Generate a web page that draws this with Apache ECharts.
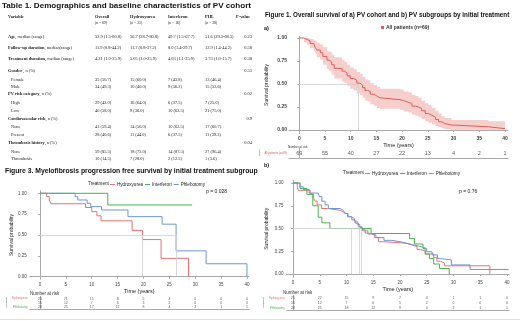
<!DOCTYPE html>
<html>
<head>
<meta charset="utf-8">
<script src="https://cdn.jsdelivr.net/npm/echarts@6/dist/echarts.min.js"></script>
<style>
html, body {margin: 0; padding: 0; background: #fff;}
#main {width: 520px; height: 321px;}
</style>
</head>
<body>
<div id="main"></div>
<script>
// ---- Table 1 data ----
var table_title = 'Table 1. Demographics and baseline characteristics of PV cohort';
var table_cols = ['Overall', 'Hydroxyurea', 'Interferon', 'PHL'];
var table_n = ['(n = 69)', '(n = 25)', '(n = 16)', '(n = 28)'];
var row_bold = ['Age', 'Follow-up duration', 'Treatment duration', 'Gender', '', '', 'PV risk category', '', '', 'Cardiovascular risk', '', '', 'Thrombosis history', '', ''];
var row_rest = [', median (range)', ', median(range)', ', median (range)', ' , n (%)', 'Female', 'Male', ', n (%)', 'High', 'Low', ', n (%)', 'None', 'Present', ', n (%)', 'None', 'Thrombosis'];
var overall = ['52.9 (1.5-80.8)', '11.9 (0.8-44.2)', '4.31 (1.0-25.9)', '', '35 (50.7)', '34 (49.3)', '', '29 (42.0)', '40 (58.0)', '', '41 (59.4)', '28 (40.6)', '', '59 (85.5)', '10 (14.5)'];
var hydroxyurea = ['56.7 (28.7-80.8)', '11.7 (0.8-37.2)', '5.05 (1.0-25.9)', '', '15 (60.0)', '10 (40.0)', '', '16 (64.0)', '9 (36.0)', '', '14 (56.0)', '11 (44.0)', '', '18 (72.0)', '7 (28.0)'];
var interferon = ['49.7 (1.5-67.7)', '8.0 (1.4-29.7)', '4.03 (1.1-25.0)', '', '7 (43.8)', '9 (56.2)', '', '6 (37.5)', '10 (62.5)', '', '10 (62.5)', '6 (37.5)', '', '14 (87.5)', '2 (12.5)'];
var phl = ['51.6 (29.3-68.5)', '12.9 (1.4-44.2)', '3.73 (1.0-15.7)', '', '13 (46.4)', '15 (53.6)', '', '7 (25.0)', '21 (75.0)', '', '17 (60.7)', '11 (39.3)', '', '27 (96.4)', '1 (3.6)'];
var p_values = ['0.23', '0.58', '0.38', '0.53', '', '', '0.02', '', '', '0.9', '', '', '0.04', '', ''];

// ---- Figure 1a: overall survival, all patients ----
var all_time  = [0, 0.9, 1.5, 2.1, 2.8, 3.1, 3.4, 4.1, 4.6, 5.4, 5.8, 6.3, 6.8, 8.3, 8.8, 9.3, 9.9, 10.6, 11.2, 11.8, 12.3, 12.8, 13.3, 13.8, 14.5, 15.1, 15.7, 19.6, 20.3, 21.3, 21.9, 22.6, 23.2, 23.8, 24.5, 25.1, 25.8, 26.5, 27.1, 27.7, 28.3, 29.6, 36.8, 40];
var all_surv  = [1, 0.985, 0.97, 0.94, 0.92, 0.90, 0.87, 0.84, 0.80, 0.76, 0.74, 0.71, 0.67, 0.64, 0.62, 0.59, 0.56, 0.54, 0.51, 0.49, 0.46, 0.43, 0.42, 0.39, 0.37, 0.35, 0.33, 0.32, 0.30, 0.29, 0.26, 0.25, 0.235, 0.21, 0.18, 0.16, 0.14, 0.115, 0.09, 0.07, 0.055, 0.035, 0.015, 0.015];
var all_upper = [1, 1, 1, 0.99, 0.98, 0.97, 0.95, 0.93, 0.90, 0.86, 0.85, 0.82, 0.79, 0.76, 0.74, 0.71, 0.68, 0.66, 0.63, 0.61, 0.58, 0.55, 0.54, 0.51, 0.49, 0.47, 0.45, 0.44, 0.42, 0.41, 0.38, 0.37, 0.35, 0.32, 0.29, 0.27, 0.24, 0.21, 0.18, 0.15, 0.13, 0.11, 0.095, 0.095];
var all_lower = [1, 0.955, 0.93, 0.89, 0.86, 0.83, 0.79, 0.76, 0.71, 0.66, 0.64, 0.60, 0.56, 0.53, 0.51, 0.48, 0.45, 0.43, 0.40, 0.38, 0.35, 0.32, 0.31, 0.28, 0.26, 0.24, 0.23, 0.22, 0.20, 0.19, 0.165, 0.155, 0.14, 0.12, 0.095, 0.08, 0.06, 0.045, 0.03, 0.018, 0.01, 0.004, 0, 0];
var all_median = [11.5];
var all_risk = [69, 55, 40, 27, 22, 13, 4, 2, 1];

// ---- Figure 1b: overall survival by treatment ----
var os_hu_time  = [0, 0.8, 1.0, 3.2, 3.8, 4.1, 4.5, 5.3, 6.5, 8.8, 9.4, 10.2, 10.9, 11.5, 12.0, 12.5, 13.0, 14.0, 15.2, 16.0, 16.8, 21.0, 22.3, 23.2, 23.8, 24.8, 26.3, 26.9, 27.6, 28.3, 36.8];
var os_hu_surv  = [1, 0.96, 0.92, 0.88, 0.84, 0.80, 0.76, 0.72, 0.70, 0.68, 0.66, 0.63, 0.61, 0.58, 0.545, 0.51, 0.475, 0.44, 0.40, 0.355, 0.34, 0.32, 0.30, 0.27, 0.25, 0.22, 0.18, 0.14, 0.12, 0.09, 0];
var os_ifn_time = [0, 1.3, 2.6, 3.7, 4.7, 5.4, 6.9, 14.6, 21.8, 22.7, 24.3, 24.7, 25.5, 26.3, 27.4, 29.2];
var os_ifn_surv = [1, 0.94, 0.875, 0.75, 0.625, 0.5625, 0.5, 0.445, 0.39, 0.33, 0.28, 0.22, 0.17, 0.11, 0.06, 0];
var os_phl_time = [0, 1.3, 1.9, 3.0, 4.7, 4.9, 5.4, 6.0, 6.6, 8.8, 9.4, 9.7, 10.3, 11.0, 11.6, 12.2, 12.8, 13.5, 14.1, 15.5, 17.0, 18.5, 20.0, 21.5, 22.5, 24.0, 25.0, 26.0, 27.0, 27.6, 29.6, 33.1, 40.3];
var os_phl_surv = [1, 0.96, 0.93, 0.89, 0.87, 0.85, 0.80, 0.76, 0.72, 0.70, 0.68, 0.665, 0.63, 0.595, 0.56, 0.52, 0.485, 0.45, 0.43, 0.40, 0.37, 0.355, 0.335, 0.32, 0.30, 0.28, 0.245, 0.21, 0.17, 0.155, 0.10, 0.05, 0.05];
var os_medians = [10.9, 12.3, 12.7];
var os_p = 'p = 0.76';
var os_risk_hu  = [25, 22, 15, 9, 7, 4, 1, 1, 0];
var os_risk_ifn = [16, 12, 7, 6, 5, 2, 0, 0, 0];
var os_risk_phl = [28, 25, 18, 12, 9, 4, 2, 1, 1];

// ---- Figure 3: myelofibrosis progression free survival ----
var pfs_hu_time  = [0, 1.3, 1.8, 2.1, 8.8, 10.0, 11.0, 11.8, 17.8, 19.8, 23.4, 28.7];
var pfs_hu_surv  = [1, 0.96, 0.92, 0.875, 0.83, 0.78, 0.73, 0.67, 0.555, 0.445, 0.22, 0];
var pfs_ifn_time = [0, 13.1, 29.4];
var pfs_ifn_surv = [1, 0.86, 0.86];
var pfs_phl_time = [0, 6.8, 7.3, 9.1, 9.8, 11.9, 17.0, 23.6, 26.3, 32.1, 40.0];
var pfs_phl_surv = [1, 0.96, 0.92, 0.88, 0.84, 0.80, 0.72, 0.63, 0.31, 0.155, 0];
var pfs_medians = [19.8, 26.3];
var pfs_p = 'p = 0.028';
var pfs_risk_hu  = [25, 21, 15, 8, 5, 4, 0, 0, 0];
var pfs_risk_ifn = [16, 12, 7, 6, 3, 2, 0, 0, 0];
var pfs_risk_phl = [28, 25, 17, 11, 8, 4, 2, 1, 1];

var groups = ['Hydroxyurea', 'Interferon', 'Phlebotomy'];
var year_ticks = [0, 5, 10, 15, 20, 25, 30, 35, 40];
var surv_ticks = [0, 0.25, 0.5, 0.75, 1];

// ---- styles / layout ----
var SANS = '"Liberation Sans", Arial, sans-serif';
var SERIF = '"Liberation Serif", "Times New Roman", serif';
var group_colors = ['#e57373', '#4caf50', '#6f95d1'];
var all_color = '#d9605a';
var band_color = '#f6cfcc';
var axis_color = '#aaaaaa';
var row_y = [37, 48, 59, 71, 80, 87, 94, 103, 111, 119, 127, 135, 143, 152, 159];
var col_x = [95, 130, 168, 205];

function pts(times, surv) {
    return times.map(function (t, i) { return [t, surv[i]]; });
}

function median_lines(medians) {
    // 中位生存时间参考线
    var maxm = Math.max.apply(null, medians);
    var d = [[{coord: [0, 0.5]}, {coord: [maxm, 0.5]}]];
    medians.forEach(function (m) { d.push([{coord: [m, 0.5]}, {coord: [m, 0]}]); });
    return {silent: true, symbol: 'none', label: {show: false}, animation: false,
        lineStyle: {color: '#cfcfcf', width: 0.8, type: 'solid'}, emphasis: {disabled: true}, data: d};
}

function km_line(name, times, surv, color, idx, marks) {
    var s = {
        name: name, type: 'line', step: 'end', xAxisIndex: idx, yAxisIndex: idx,
        data: pts(times, surv), showSymbol: false, symbol: 'none', z: 3,
        lineStyle: {color: color, width: 1}, itemStyle: {color: color}
    };
    if (marks) s.markLine = marks;
    return s;
}

function risk_series(rows, idx, size) {
    var data = [];
    rows.forEach(function (r, ri) {
        r.forEach(function (v, i) { data.push([year_ticks[i], ri, v]); });
    });
    return {
        type: 'scatter', xAxisIndex: idx, yAxisIndex: idx, data: data, symbolSize: 1,
        itemStyle: {color: 'rgba(0,0,0,0)'}, silent: true,
        label: {show: true, position: 'inside', formatter: function (p) { return p.value[2]; },
            fontSize: size, color: '#333', fontFamily: SANS}
    };
}

function x_axis(idx, min, max, opts) {
    var a = {
        gridIndex: idx, type: 'value', min: min, max: max,
        axisLine: {show: true, lineStyle: {color: axis_color, width: 1}},
        axisTick: {show: true, length: 2, lineStyle: {color: axis_color}, customValues: year_ticks},
        axisLabel: {show: true, customValues: year_ticks, fontSize: 4.5, margin: 3, color: '#444', fontFamily: SANS},
        splitLine: {show: false},
        name: 'Time (years)', nameLocation: 'middle', nameGap: 9,
        nameTextStyle: {fontSize: 5.5, color: '#222', fontFamily: SANS}
    };
    return Object.assign(a, opts || {});
}

function y_axis(idx, min, max, gap, opts) {
    var a = {
        gridIndex: idx, type: 'value', min: min, max: max,
        axisLine: {show: true, lineStyle: {color: axis_color, width: 1}},
        axisTick: {show: true, length: 2, lineStyle: {color: axis_color}, customValues: surv_ticks},
        axisLabel: {show: true, customValues: surv_ticks, fontSize: 4.5, margin: 3, color: '#444', fontFamily: SANS,
            formatter: function (v) { return v.toFixed(2); }},
        splitLine: {show: false},
        name: 'Survival probability', nameLocation: 'middle', nameGap: gap, nameRotate: 90,
        nameTextStyle: {fontSize: 5, color: '#222', fontFamily: SANS}
    };
    return Object.assign(a, opts || {});
}

function risk_x(idx, min, max) {
    return {gridIndex: idx, type: 'value', min: min, max: max,
        axisLine: {show: true, lineStyle: {color: axis_color}}, axisTick: {show: false},
        axisLabel: {show: false}, splitLine: {show: false}};
}

function risk_y(idx, cats, colors, size, title) {
    return {gridIndex: idx, type: 'category', data: cats, inverse: true,
        axisLine: {show: true, lineStyle: {color: axis_color}}, axisTick: {show: false},
        axisLabel: {fontSize: size, margin: 2, fontFamily: SANS,
            color: function (v, i) { return colors[i]; }},
        name: title, nameLocation: 'middle', nameRotate: 90, nameGap: 22,
        nameTextStyle: {fontSize: 2.5, color: '#555', fontFamily: SANS}};
}

// 置信区间：一个阶梯多边形（上界正向 + 下界反向）
var band_data = [];
for (var i = 0; i < all_time.length - 1; i++) {
    band_data.push([all_time[i], all_time[i + 1], all_lower[i], all_upper[i]]);
}

function render_band(params, api) {
    if (params.dataIndex !== 0) return null;
    var points = [];
    band_data.forEach(function (d) {
        points.push(api.coord([d[0], d[3]]));
        points.push(api.coord([d[1], d[3]]));
    });
    for (var k = band_data.length - 1; k >= 0; k--) {
        var d = band_data[k];
        points.push(api.coord([d[1], d[2]]));
        points.push(api.coord([d[0], d[2]]));
    }
    return {type: 'polygon', shape: {points: points}, style: {fill: band_color}};
}

// ---- graphic texts (table + titles) ----
var graphics = [];
function txt(x, y, text, font, fill, align) {
    graphics.push({type: 'text', x: x, y: y, silent: true,
        style: {text: text, font: font, fill: fill || '#222', align: align || 'left', verticalAlign: 'middle'}});
}
var tfont = '4.4px ' + SERIF;
var tbold = 'bold 4.4px ' + SERIF;
txt(2, 5.5, table_title, 'bold 8.1px ' + SANS, '#111');
txt(8, 17, 'Variable', tbold);
table_cols.forEach(function (c, i) {
    txt(col_x[i], 17, c, tbold);
    txt(col_x[i], 23, table_n[i], '3.8px ' + SERIF);
});
txt(236, 17, 'P-value', tbold);
var value_cols = [overall, hydroxyurea, interferon, phl];
row_y.forEach(function (y, r) {
    if (row_bold[r]) {
        graphics.push({type: 'text', x: 8, y: y, silent: true, style: {
            text: '{b|' + row_bold[r] + '}{n|' + row_rest[r] + '}', verticalAlign: 'middle',
            rich: {b: {font: tbold, fill: '#222'}, n: {font: tfont, fill: '#222'}}}});
    } else {
        txt(11, y, row_rest[r], tfont);
    }
    value_cols.forEach(function (col, c) { if (col[r]) txt(col_x[c], y, col[r], tfont); });
    if (p_values[r]) txt(252, y, p_values[r], tfont, '#222', 'right');
});

txt(265, 15, 'Figure 1. Overall survival of a) PV cohort and b) PV subgroups by initial treatment', 'bold 6.3px ' + SANS, '#111');
txt(264, 28, 'a)', 'bold 5.5px ' + SANS, '#111');
txt(264, 165, 'b)', 'bold 5.5px ' + SANS, '#111');
txt(5, 171, 'Figure 3. Myelofibrosis progression free survival by initial treatment subgroup', 'bold 6.8px ' + SANS, '#111');
txt(88, 184, 'Treatment', '4.6px ' + SANS, '#222');
txt(343, 173, 'Treatment', '4.6px ' + SANS, '#222');
txt(206, 192, pfs_p, '5px ' + SANS, '#222');
txt(459, 192, os_p, '5px ' + SANS, '#222');
txt(288, 147.5, 'Number at risk', '3px ' + SANS, '#333');
txt(283, 293, 'Number at risk', '4.5px ' + SANS, '#333');
txt(30, 294, 'Number at risk', '4.5px ' + SANS, '#333');
graphics.push({type: 'line', silent: true, shape: {x1: 0, y1: 319.5, x2: 520, y2: 319.5},
    style: {stroke: '#e2e2e2', lineWidth: 1}});

var legend_text = {fontSize: 4.6, color: '#222', padding: [0, 0, 0, -3]};

var option = {
    animation: false,
    textStyle: {fontFamily: SANS},
    grid: [
        {left: 289, top: 36.2, width: 219, height: 97.5},
        {left: 289, top: 148, width: 219, height: 10},
        {left: 286.6, top: 180.3, width: 222.5, height: 96.9},
        {left: 286.6, top: 295.5, width: 222.5, height: 15},
        {left: 29.65, top: 190.8, width: 219.4, height: 88.4},
        {left: 29.65, top: 296.5, width: 219.4, height: 12.5}
    ],
    xAxis: [
        x_axis(0, -2, 40.6, {axisLabel: {show: true, customValues: year_ticks, fontSize: 5, fontWeight: 'bold', margin: 2, color: '#444', fontFamily: SANS}, nameGap: 9}),
        risk_x(1, -2, 40.6),
        x_axis(2, -1.2, 40.4),
        risk_x(3, -1.2, 40.4),
        x_axis(4, -2, 40.4),
        risk_x(5, -2, 40.4)
    ],
    yAxis: [
        y_axis(0, -0.04, 1.02, 20, {axisLabel: {show: true, customValues: surv_ticks, fontSize: 5, fontWeight: 'bold', margin: 2, color: '#444', fontFamily: SANS,
            formatter: function (v) { return v.toFixed(2); }}}),
        risk_y(1, ['All patients (n=69)'], [all_color], 2.8, 'Strata'),
        y_axis(2, -0.035, 1.03, 17),
        risk_y(3, groups, group_colors, 2.8, 'Treatment'),
        y_axis(4, -0.03, 1.03, 15),
        risk_y(5, groups, group_colors, 2.8, 'Treatment')
    ],
    legend: [
        {data: ['All patients (n=69)'], left: 381, top: 25, padding: 0, icon: 'rect', itemWidth: 3, itemHeight: 3, itemGap: 2,
            textStyle: {fontSize: 5, fontWeight: 'bold', color: '#333', padding: [0, 0, 0, -3]}},
        {data: groups, left: 365, top: 171, padding: 0, icon: 'rect', itemWidth: 5, itemHeight: 1, itemGap: 2, textStyle: legend_text},
        {data: groups, left: 110, top: 182, padding: 0, icon: 'rect', itemWidth: 5, itemHeight: 1, itemGap: 2, textStyle: legend_text}
    ],
    series: [
        {name: 'band', type: 'custom', xAxisIndex: 0, yAxisIndex: 0, z: 1, silent: true,
            renderItem: render_band, encode: {x: [0, 1], y: [2, 3]}, data: band_data},
        km_line('All patients (n=69)', all_time, all_surv, all_color, 0, median_lines(all_median)),
        risk_series([all_risk], 1, 5.5),
        km_line(groups[0], os_hu_time, os_hu_surv, group_colors[0], 2, median_lines(os_medians)),
        km_line(groups[1], os_ifn_time, os_ifn_surv, group_colors[1], 2),
        km_line(groups[2], os_phl_time, os_phl_surv, group_colors[2], 2),
        risk_series([os_risk_hu, os_risk_ifn, os_risk_phl], 3, 3.5),
        km_line(groups[0], pfs_hu_time, pfs_hu_surv, group_colors[0], 4, median_lines(pfs_medians)),
        km_line(groups[1], pfs_ifn_time, pfs_ifn_surv, group_colors[1], 4),
        km_line(groups[2], pfs_phl_time, pfs_phl_surv, group_colors[2], 4),
        risk_series([pfs_risk_hu, pfs_risk_ifn, pfs_risk_phl], 5, 3.5)
    ],
    graphic: graphics
};

var chart = echarts.init(document.getElementById('main'));
chart.setOption(option);
</script>
</body>
</html>
